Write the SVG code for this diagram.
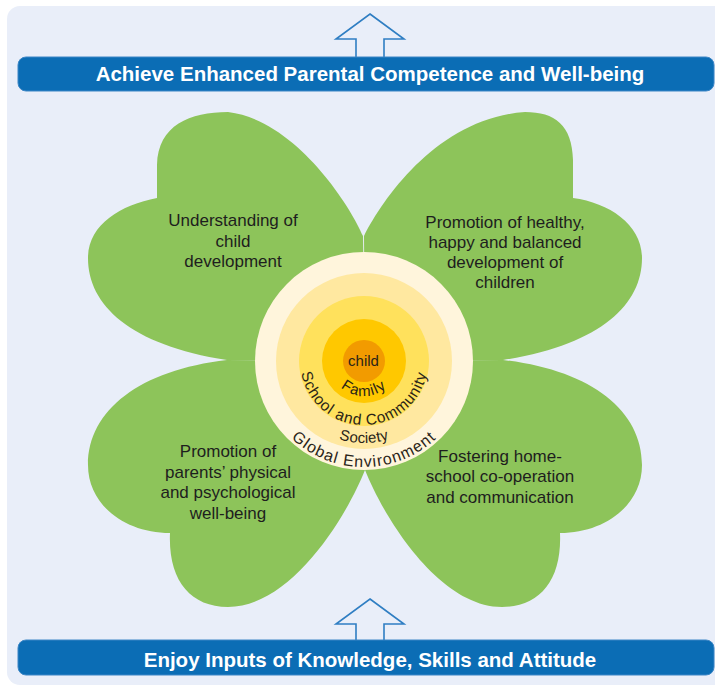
<svg xmlns="http://www.w3.org/2000/svg" width="715" height="686" viewBox="0 0 715 686">
  <defs>
    <style>
      .petal { fill: #8DC45A; }
      .ptxt { font-family: "Liberation Sans", Arial, sans-serif; font-size: 17px; fill: #1E1E1E; text-anchor: middle; }
      .rtxt { font-family: "Liberation Sans", Arial, sans-serif; font-size: 15px; fill: #2A2418; }
      .btxt { font-family: "Liberation Sans", Arial, sans-serif; font-size: 20.5px; font-weight: bold; fill: #FFFFFF; text-anchor: middle; }
      .banner { fill: #0B6DB5; stroke: #3C86C6; stroke-width: 1; }
      .arrow { fill: #E9EEF9; stroke: #2F7EC3; stroke-width: 1.6; stroke-linejoin: miter; }
    </style>
    <path id="arcFamily" d="M 331.11 349.03 A 35 35 0 1 0 396.89 349.03"/>
    <path id="arcSchool" d="M 303.86 339.11 A 64 64 0 1 0 424.14 339.11"/>
    <path id="arcSociety" d="M 286.95 332.96 A 82 82 0 1 0 441.05 332.96"/>
    <path id="arcGlobal" d="M 264.39 324.75 A 106 106 0 1 0 463.61 324.75"/>
  </defs>

  <rect id="panel" x="7" y="6" width="730" height="679" rx="13" ry="13" fill="#E9EEF9"/>

  <g id="petal-tl">
    <path class="petal" d="M 365 361 L 363 236 C 350 205 295 120 228 112 C 190 112 158 125 157 165 L 157 198 C 120 205 88 225 88 258 C 88 305 130 345 227 360 Z"/>
    <text class="ptxt"><tspan x="233" y="226">Understanding of</tspan><tspan x="233" y="246.5">child</tspan><tspan x="233" y="267">development</tspan></text>
  </g>
  <g id="petal-tr">
    <path class="petal" d="M 365 361 L 364 236 C 385 195 440 118 525 112 C 555 112 572 125 573 160 L 573 198 C 610 203 642 225 642 258 C 642 305 600 345 503 360 Z"/>
    <text class="ptxt"><tspan x="505" y="228">Promotion of healthy,</tspan><tspan x="505" y="248">happy and balanced</tspan><tspan x="505" y="268">development of</tspan><tspan x="505" y="288">children</tspan></text>
  </g>
  <g id="petal-bl">
    <path class="petal" d="M 365 361 L 227 360 C 140 370 88 410 88 465 C 88 505 125 533 170 533 C 168 580 190 607 228 607 C 290 607 345 520 365 470 Z"/>
    <text class="ptxt"><tspan x="228" y="457">Promotion of</tspan><tspan x="228" y="478">parents’ physical</tspan><tspan x="228" y="498">and psychological</tspan><tspan x="228" y="519">well-being</tspan></text>
  </g>
  <g id="petal-br">
    <path class="petal" d="M 365 361 L 503 360 C 590 370 642 410 642 465 C 642 505 605 533 560 533 C 562 580 540 607 502 607 C 440 607 385 520 365 470 Z"/>
    <text class="ptxt"><tspan x="500" y="462">Fostering home-</tspan><tspan x="500" y="482">school co-operation</tspan><tspan x="500" y="503">and communication</tspan></text>
  </g>

  <g id="center-circles">
    <circle cx="364" cy="361" r="109" fill="#FFF5DC"/>
    <circle cx="364" cy="361" r="88" fill="#FFE8A0"/>
    <circle cx="364" cy="361" r="65" fill="#FFE15C"/>
    <circle cx="364" cy="361" r="42" fill="#FFC800"/>
    <circle cx="364" cy="361" r="21" fill="#F29B00"/>
    <text class="rtxt" x="363.5" y="366" text-anchor="middle">child</text>
    <text class="rtxt" letter-spacing="1.1"><textPath href="#arcFamily" startOffset="50%" text-anchor="middle">Family</textPath></text>
    <text class="rtxt" style="font-size:15.5px" letter-spacing="0.8"><textPath href="#arcSchool" startOffset="50%" text-anchor="middle">School and Community</textPath></text>
    <text class="rtxt" letter-spacing="0.3"><textPath href="#arcSociety" startOffset="50%" text-anchor="middle">Society</textPath></text>
    <text class="rtxt" style="font-size:16px" letter-spacing="1.1"><textPath href="#arcGlobal" startOffset="50%" text-anchor="middle">Global Environment</textPath></text>
  </g>

  <g id="connectors">
    <path class="arrow" d="M 370 14 L 404 39 L 384 39 L 384 59 L 356 59 L 356 39 L 336 39 Z"/>
    <path class="arrow" d="M 370 599 L 404 624 L 384 624 L 384 642 L 356 642 L 356 624 L 336 624 Z"/>
  </g>

  <g id="banner-top">
    <rect class="banner" x="18" y="57" width="696" height="34" rx="8" ry="8"/>
    <text class="btxt" x="370" y="81">Achieve Enhanced Parental Competence and Well-being</text>
  </g>
  <g id="banner-bottom">
    <rect class="banner" x="18" y="640" width="696" height="35" rx="8" ry="8"/>
    <text class="btxt" x="370" y="667">Enjoy Inputs of Knowledge, Skills and Attitude</text>
  </g>
</svg>
